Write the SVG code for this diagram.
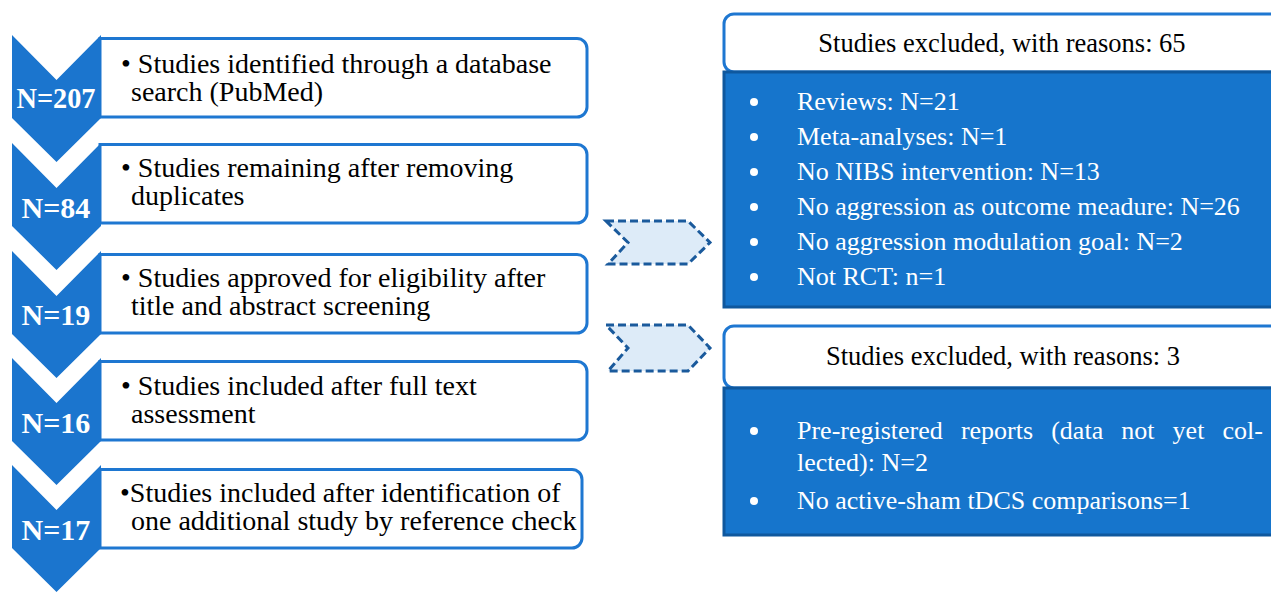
<svg xmlns="http://www.w3.org/2000/svg" width="1271" height="592" viewBox="0 0 1271 592">
  <defs>
    <style>
      .chev { fill: #1B75CE; }
      .step { fill: #ffffff; stroke: #1E77D1; stroke-width: 3; }
      .count { font-family: "Liberation Serif", "Times New Roman", serif; font-weight: bold; font-size: 30px; fill: #ffffff; text-anchor: middle; }
      .txt { font-family: "Liberation Serif", "Times New Roman", serif; font-size: 28px; fill: #000000; }
      .head { fill: #ffffff; stroke: #1E77D1; stroke-width: 3; }
      .headtxt { font-family: "Liberation Serif", "Times New Roman", serif; font-size: 26.5px; fill: #000000; text-anchor: middle; }
      .body { fill: #1675CC; stroke: #0F589E; stroke-width: 3; }
      .item { font-family: "Liberation Serif", "Times New Roman", serif; font-size: 26px; fill: #ffffff; }
      .dot { fill: #ffffff; }
      .flow { fill: #DDEBF8; stroke: #1A5A9C; stroke-width: 3; stroke-dasharray: 8 4; stroke-linejoin: miter; }
    </style>
  </defs>

  <rect width="1271" height="592" fill="#ffffff"/>

  <!-- Step 1 -->
  <g id="step1">
    <path class="step" d="M100,38.5 H577 a10,10 0 0 1 10,10 V107 a10,10 0 0 1 -10,10 H100 Z"/>
    <path class="chev" d="M12,35 L56.5,80 L101,35 V118 L56.5,162 L12,118 Z"/>
    <text class="count" x="56" y="108" textLength="79" lengthAdjust="spacingAndGlyphs">N=207</text>
    <text class="txt" x="121" y="72.5">• Studies identified through a database</text>
    <text class="txt" x="131" y="100.5">search (PubMed)</text>
  </g>

  <!-- Step 2 -->
  <g id="step2">
    <path class="step" d="M100,144.5 H577 a10,10 0 0 1 10,10 V213 a10,10 0 0 1 -10,10 H100 Z"/>
    <path class="chev" d="M12,143 L56.5,188 L101,143 V226 L56.5,270 L12,226 Z"/>
    <text class="count" x="56" y="218">N=84</text>
    <text class="txt" x="121" y="177">• Studies remaining after removing</text>
    <text class="txt" x="131" y="205">duplicates</text>
  </g>

  <!-- Step 3 -->
  <g id="step3">
    <path class="step" d="M100,254.5 H577 a10,10 0 0 1 10,10 V323 a10,10 0 0 1 -10,10 H100 Z"/>
    <path class="chev" d="M12,251 L56.5,296 L101,251 V334 L56.5,378 L12,334 Z"/>
    <text class="count" x="56" y="325">N=19</text>
    <text class="txt" x="121" y="287">• Studies approved for eligibility after</text>
    <text class="txt" x="131" y="315">title and abstract screening</text>
  </g>

  <!-- Step 4 -->
  <g id="step4">
    <path class="step" d="M100,361.5 H577 a10,10 0 0 1 10,10 V430 a10,10 0 0 1 -10,10 H100 Z"/>
    <path class="chev" d="M12,358 L56.5,403 L101,358 V441 L56.5,485 L12,441 Z"/>
    <text class="count" x="56" y="433">N=16</text>
    <text class="txt" x="121" y="395">• Studies included after full text</text>
    <text class="txt" x="131" y="423">assessment</text>
  </g>

  <!-- Step 5 -->
  <g id="step5">
    <path class="step" d="M100,469.5 H572 a10,10 0 0 1 10,10 V538 a10,10 0 0 1 -10,10 H100 Z"/>
    <path class="chev" d="M12,465 L56.5,510 L101,465 V548 L56.5,592 L12,548 Z"/>
    <text class="count" x="56" y="540">N=17</text>
    <text class="txt" x="120" y="502">•Studies included after identification of</text>
    <text class="txt" x="131" y="530">one additional study by reference check</text>
  </g>

  <!-- Dashed flow arrows toward the exclusion panels -->
  <g id="connectors">
    <path class="flow" d="M606,221 H688 L710,242.5 L688,264 H608 L628,242.5 Z"/>
    <path class="flow" d="M606,325 H688 L710,348 L688,371 H608 L628,348 Z"/>
  </g>

  <!-- Exclusions after screening -->
  <g id="excluded1">
    <path class="head" d="M1275,14 H734 a10,10 0 0 0 -10,10 V62 a10,10 0 0 0 10,10 H1275 Z"/>
    <text class="headtxt" x="1002" y="52">Studies excluded, with reasons: 65</text>
    <rect class="body" x="724" y="72" width="560" height="235"/>
    <circle class="dot" cx="754" cy="102" r="4"/>
    <text class="item" x="797" y="110">Reviews: N=21</text>
    <circle class="dot" cx="754" cy="137" r="4"/>
    <text class="item" x="797" y="145">Meta-analyses: N=1</text>
    <circle class="dot" cx="754" cy="172" r="4"/>
    <text class="item" x="797" y="180">No NIBS intervention: N=13</text>
    <circle class="dot" cx="754" cy="207" r="4"/>
    <text class="item" x="797" y="215">No aggression as outcome meadure: N=26</text>
    <circle class="dot" cx="754" cy="242" r="4"/>
    <text class="item" x="797" y="250">No aggression modulation goal: N=2</text>
    <circle class="dot" cx="754" cy="277" r="4"/>
    <text class="item" x="797" y="285">Not RCT: n=1</text>
  </g>

  <!-- Exclusions after full-text assessment -->
  <g id="excluded2">
    <path class="head" d="M1275,326 H734 a10,10 0 0 0 -10,10 V378 a10,10 0 0 0 10,10 H1275 Z"/>
    <text class="headtxt" x="1003" y="365">Studies excluded, with reasons: 3</text>
    <rect class="body" x="724" y="388" width="560" height="147"/>
    <circle class="dot" cx="754" cy="431" r="4"/>
    <text class="item" x="797" y="439" word-spacing="11.6">Pre-registered reports (data not yet col-</text>
    <text class="item" x="797" y="471">lected): N=2</text>
    <circle class="dot" cx="754" cy="501" r="4"/>
    <text class="item" x="797" y="509">No active-sham tDCS comparisons=1</text>
  </g>
</svg>
